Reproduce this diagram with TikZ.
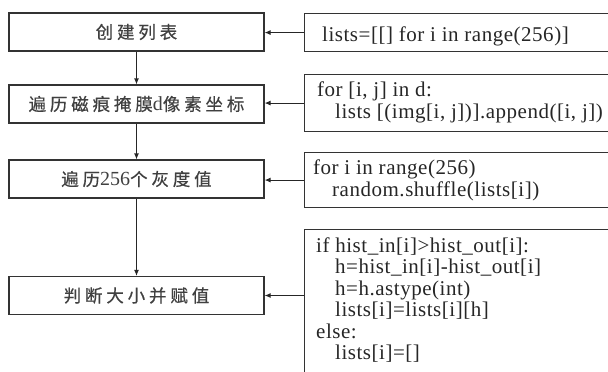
\documentclass[tikz,border=0pt]{standalone}
\usepackage{fontspec}
\setmainfont{Liberation Serif}
\newfontfamily\codefont[LetterSpace=2.5]{Liberation Serif}
\newfontfamily\cjk[LetterSpace=22,FakeBold=0.5]{Noto Sans CJK SC}
\newcommand\latinpart[1]{{\rmfamily\fontsize{20}{20}\selectfont #1}}
\usetikzlibrary{arrows.meta}
\begin{document}
\begin{tikzpicture}[x=1pt,y=1pt,
  lbox/.style={draw=black!80, line width=1.1pt, minimum width=255pt, minimum height=38pt,
    inner sep=0pt, font=\cjk\fontsize{17.5}{20}\selectfont, text=black!75},
  rbox/.style={draw=black!80, line width=1.1pt, anchor=north west, inner sep=0pt, minimum width=400pt},
  code/.style={anchor=base west, inner sep=0pt, font=\codefont\fontsize{21}{22}\selectfont, text=black!85},
  arr/.style={draw=black!85, line width=1.1pt, -{Latex[length=6pt,width=5pt]}}]
\useasboundingbox (0,0) rectangle (608,-372);
\clip (0,0) rectangle (608,-372);
% left process boxes
\node[lbox] (l1) at (136.5,-32) {创建列表};
\node[lbox] (l2) at (136.5,-104) {遍历磁痕掩膜\latinpart{d}像素坐标};
\node[lbox] (l3) at (136.5,-179) {遍历\latinpart{256}个灰度值};
\node[lbox] (l4) at (136.5,-295.5) {判断大小并赋值};
% right code boxes
\node[rbox, minimum height=38pt] (r1) at (303.5,-13) {};
\node[rbox, minimum height=57pt] (r2) at (303.5,-74) {};
\node[rbox, minimum height=55pt] (r3) at (303.5,-152) {};
\node[rbox, minimum height=200pt] (r4) at (303.5,-229) {};
% code text
\node[code] (c11) at (322,-41.5) {lists=[[] for i in range(256)]};
\node[code] (c21) at (317,-96.5) {for [i, j] in d:};
\node[code] (c22) at (335,-118) {lists [(img[i, j])].append([i, j])};
\node[code] (c31) at (313,-174) {for i in range(256)};
\node[code] (c32) at (332,-196) {random.shuffle(lists[i])};
\node[code] (c41) at (316,-252) {if hist\_in[i]>hist\_out[i]:};
\node[code] (c42) at (335,-273.5) {h=hist\_in[i]-hist\_out[i]};
\node[code] (c43) at (335,-295) {h=h.astype(int)};
\node[code] (c44) at (335,-316.5) {lists[i]=lists[i][h]};
\node[code] (c45) at (316,-338) {else:};
\node[code] (c46) at (335,-359.5) {lists[i]=[]};
% flow arrows
\draw[arr] (l1) -- (l2);
\draw[arr] (l2) -- (l3);
\draw[arr] (l3) -- (l4);
% code-to-step arrows
\draw[arr] (r1.west) -- (r1.west -| l1.east);
\draw[arr] (r2.west) -- (r2.west -| l2.east);
\draw[arr] (r3.west) -- (r3.west -| l3.east);
\draw[arr] (l4.east -| r4.west) -- (l4.east);
\end{tikzpicture}
\end{document}
